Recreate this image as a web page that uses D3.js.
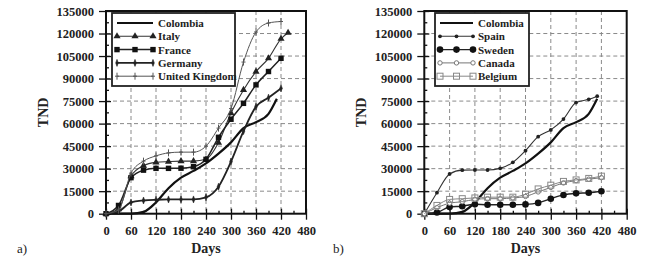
<!DOCTYPE html>
<html>
<head>
<meta charset="utf-8">
<script src="https://cdn.jsdelivr.net/npm/d3@7"></script>
<style>
  body { margin: 0; background: #fff; }
</style>
</head>
<body>
<div id="chart"></div>
<script>
// values (TND vs days)
const days = [0, 30, 60, 90, 120, 150, 180, 210, 240, 270, 300, 330, 360, 390, 420];
const colombiaDays = [0, 30, 60, 90, 120, 150, 180, 210, 240, 270, 300, 330, 360, 390, 410];
const colombia = [0, 0, 100, 1200, 7500, 17000, 24000, 28500, 33500, 40000, 47500, 57000, 61000, 66500, 76500];

const italyDays = [0, 30, 60, 90, 120, 150, 180, 210, 240, 270, 300, 330, 360, 390, 420, 437];
const italy = [0, 3000, 25000, 32000, 34200, 34700, 35000, 35000, 36200, 47300, 67000, 82400, 94600, 103500, 116500, 120500];
const france = [0, 5500, 24000, 29000, 30200, 30200, 30300, 31300, 36200, 50900, 62900, 73500, 85800, 94700, 103500];
const germany = [0, 1500, 7500, 8800, 9300, 9500, 9500, 9500, 10900, 18000, 34700, 55000, 71300, 77300, 83500];
const unitedKingdom = [0, 2500, 27000, 35000, 38500, 40500, 41000, 41000, 45000, 57000, 70000, 101000, 121000, 127000, 128000];

const spainDays = [0, 30, 60, 90, 120, 150, 180, 210, 240, 270, 300, 330, 360, 390, 410];
const spain = [0, 14000, 26500, 29000, 29100, 29100, 30200, 34200, 42000, 51300, 55800, 63000, 74000, 76200, 78300];
const sweden = [0, 800, 4500, 5000, 6300, 6000, 6000, 6000, 6200, 7200, 10000, 12500, 13600, 14000, 15000];
const canada = [0, 4000, 7000, 8000, 9500, 10000, 10000, 10500, 11500, 14500, 17500, 20500, 22000, 23000, 24000];
const belgium = [0, 5500, 9500, 10000, 10500, 11000, 11000, 11000, 13000, 16500, 19000, 21500, 22500, 23500, 25000];

const xTicks = [0, 60, 120, 180, 240, 300, 360, 420, 480];
const yTicks = [0, 15000, 30000, 45000, 60000, 75000, 90000, 105000, 120000, 135000];

const W = 650, H = 261;
const FONT = "Liberation Serif";

const svg = d3.select("#chart").append("svg")
  .attr("width", W).attr("height", H);

function zip(xs, ys) {
  return ys.map((v, i) => ({ d: xs[i], v: v }));
}

// marker drawing
function drawMarker(g, type, x, y) {
  if (type === "triangle") {
    g.append("path").attr("d", d3.symbol().type(d3.symbolTriangle).size(22)())
      .attr("transform", `translate(${x},${y})`).attr("fill", "#222");
  } else if (type === "square") {
    g.append("rect").attr("x", x - 2.7).attr("y", y - 2.7).attr("width", 5.4).attr("height", 5.4)
      .attr("fill", "#111");
  } else if (type === "vbar") {
    g.append("path").attr("d", `M${x},${y - 3.5}L${x + 1.3},${y}L${x},${y + 3.5}L${x - 1.3},${y}Z`)
      .attr("fill", "#222").attr("stroke", "#222").attr("stroke-width", 0.6);
  } else if (type === "plus") {
    g.append("path").attr("d", `M${x},${y - 3.5}V${y + 3.5}M${x - 2},${y}H${x + 2}`)
      .attr("stroke", "#555").attr("stroke-width", 1).attr("fill", "none");
  } else if (type === "dot") {
    g.append("circle").attr("cx", x).attr("cy", y).attr("r", 1.9).attr("fill", "#222");
  } else if (type === "bigdot") {
    g.append("circle").attr("cx", x).attr("cy", y).attr("r", 3.3).attr("fill", "#111");
  } else if (type === "ocircle") {
    g.append("circle").attr("cx", x).attr("cy", y).attr("r", 2.2)
      .attr("fill", "#fff").attr("stroke", "#777").attr("stroke-width", 1);
  } else if (type === "osquare") {
    g.append("rect").attr("x", x - 3).attr("y", y - 3).attr("width", 6).attr("height", 6)
      .attr("fill", "none").attr("stroke", "#888").attr("stroke-width", 1);
  }
}

function drawPanel(p) {
  const g = svg.append("g");
  const x = d3.scaleLinear().domain([0, 480]).range([p.left, p.right]);
  const y = d3.scaleLinear().domain([0, 135000]).range([p.bottom, p.top]);

  // grid
  g.selectAll(".vg").data(xTicks.slice(1, -1)).enter().append("line")
    .attr("x1", d => x(d)).attr("x2", d => x(d))
    .attr("y1", p.top).attr("y2", p.bottom)
    .attr("stroke", "#8a8a8a").attr("stroke-dasharray", "4,3").attr("stroke-width", 1);
  g.selectAll(".hg").data(yTicks.slice(1, -1)).enter().append("line")
    .attr("x1", p.left).attr("x2", p.right)
    .attr("y1", d => y(d)).attr("y2", d => y(d))
    .attr("stroke", "#8a8a8a").attr("stroke-dasharray", "4,3").attr("stroke-width", 1);

  // axes, major ticks cross the frame
  const ax = g.append("g").attr("transform", `translate(0,${p.bottom})`)
    .call(d3.axisBottom(x).tickValues(xTicks).tickSize(6).tickPadding(6).tickFormat(d3.format("d")));
  ax.selectAll(".tick line").attr("y1", -5);
  const ay = g.append("g").attr("transform", `translate(${p.left},0)`)
    .call(d3.axisLeft(y).tickValues(yTicks).tickSize(7).tickPadding(5).tickFormat(d3.format("d")));
  ay.selectAll(".tick line").attr("x1", 5);
  // minor ticks, inside
  g.append("g").attr("transform", `translate(0,${p.bottom})`)
    .call(d3.axisTop(x).tickValues(d3.range(30, 480, 60)).tickSize(3).tickFormat(""));
  g.append("g").attr("transform", `translate(${p.left},0)`)
    .call(d3.axisRight(y).tickValues(d3.range(7500, 135000, 15000)).tickSize(3).tickFormat(""));
  g.selectAll(".domain").remove();
  g.selectAll(".tick line").attr("stroke", "#111").attr("stroke-width", 1.3);
  [ax, ay].forEach(a => a.selectAll("text")
    .attr("font-family", FONT).attr("font-weight", "bold")
    .attr("font-size", 12.5).attr("fill", "#222"));

  // frame
  g.append("rect").attr("x", p.left).attr("y", p.top)
    .attr("width", p.right - p.left).attr("height", p.bottom - p.top)
    .attr("fill", "none").attr("stroke", "#111").attr("stroke-width", 2);

  // series
  const line = d3.line().x(d => x(d.d)).y(d => y(d.v)).curve(d3.curveMonotoneX);
  p.series.forEach(s => {
    const pts = zip(s.days, s.values);
    g.append("path").datum(pts).attr("d", line)
      .attr("fill", "none").attr("stroke", s.color).attr("stroke-width", s.width);
    if (s.marker) {
      pts.forEach(pt => drawMarker(g, s.marker, x(pt.d), y(pt.v)));
    }
  });

  // legend
  const lg = g.append("g");
  lg.append("rect").attr("x", p.legend.x).attr("y", p.legend.y)
    .attr("width", p.legend.w).attr("height", p.legend.h)
    .attr("fill", "#fff").attr("stroke", "#222").attr("stroke-width", 1.8);
  p.series.forEach((s, i) => {
    const ly = p.legend.y + 10 + i * 13.3;
    const lx0 = p.legend.x + 5, lx1 = p.legend.x + p.legend.sample;
    lg.append("line").attr("x1", lx0).attr("x2", lx1).attr("y1", ly).attr("y2", ly)
      .attr("stroke", s.color).attr("stroke-width", s.width);
    if (s.marker) {
      [lx0, (lx0 + lx1) / 2, lx1].forEach(mx => drawMarker(lg, s.marker, mx, ly));
    }
    lg.append("text").attr("x", lx1 + 5).attr("y", ly + 4)
      .attr("font-family", FONT).attr("font-weight", "bold").attr("font-size", 11)
      .attr("fill", "#222").text(s.name);
  });

  // axis titles
  g.append("text").attr("x", (p.left + p.right) / 2).attr("y", 253)
    .attr("text-anchor", "middle").attr("font-family", FONT).attr("font-weight", "bold")
    .attr("font-size", 14).attr("fill", "#222").text("Days");
  g.append("text").attr("transform", `translate(${p.left - 58},${(p.top + p.bottom) / 2}) rotate(-90)`)
    .attr("text-anchor", "middle").attr("font-family", FONT).attr("font-weight", "bold")
    .attr("font-size", 14).attr("fill", "#222").text("TND");
  g.append("text").attr("x", p.tag).attr("y", 253)
    .attr("font-family", FONT).attr("font-size", 13).attr("fill", "#222").text(p.tagText);
}

drawPanel({
  left: 106, right: 306, top: 11, bottom: 213.7,
  tag: 17, tagText: "a)",
  legend: { x: 112, y: 13, w: 123, h: 73, sample: 41 },
  series: [
    { name: "Colombia", days: colombiaDays, values: colombia, color: "#111", width: 2.2 },
    { name: "Italy", days: italyDays, values: italy, color: "#333", width: 1.1, marker: "triangle" },
    { name: "France", days: days, values: france, color: "#222", width: 1.5, marker: "square" },
    { name: "Germany", days: days, values: germany, color: "#222", width: 1.8, marker: "vbar" },
    { name: "United Kingdom", days: days, values: unitedKingdom, color: "#555", width: 1, marker: "plus" }
  ]
});

drawPanel({
  left: 424.3, right: 626.7, top: 11, bottom: 213.7,
  tag: 333, tagText: "b)",
  legend: { x: 435, y: 13, w: 94, h: 73, sample: 38 },
  series: [
    { name: "Colombia", days: colombiaDays, values: colombia, color: "#111", width: 2.2 },
    { name: "Spain", days: spainDays, values: spain, color: "#333", width: 1.1, marker: "dot" },
    { name: "Sweden", days: days, values: sweden, color: "#222", width: 1.4, marker: "bigdot" },
    { name: "Canada", days: days, values: canada, color: "#777", width: 1, marker: "ocircle" },
    { name: "Belgium", days: days, values: belgium, color: "#888", width: 1, marker: "osquare" }
  ]
});
</script>
</body>
</html>
